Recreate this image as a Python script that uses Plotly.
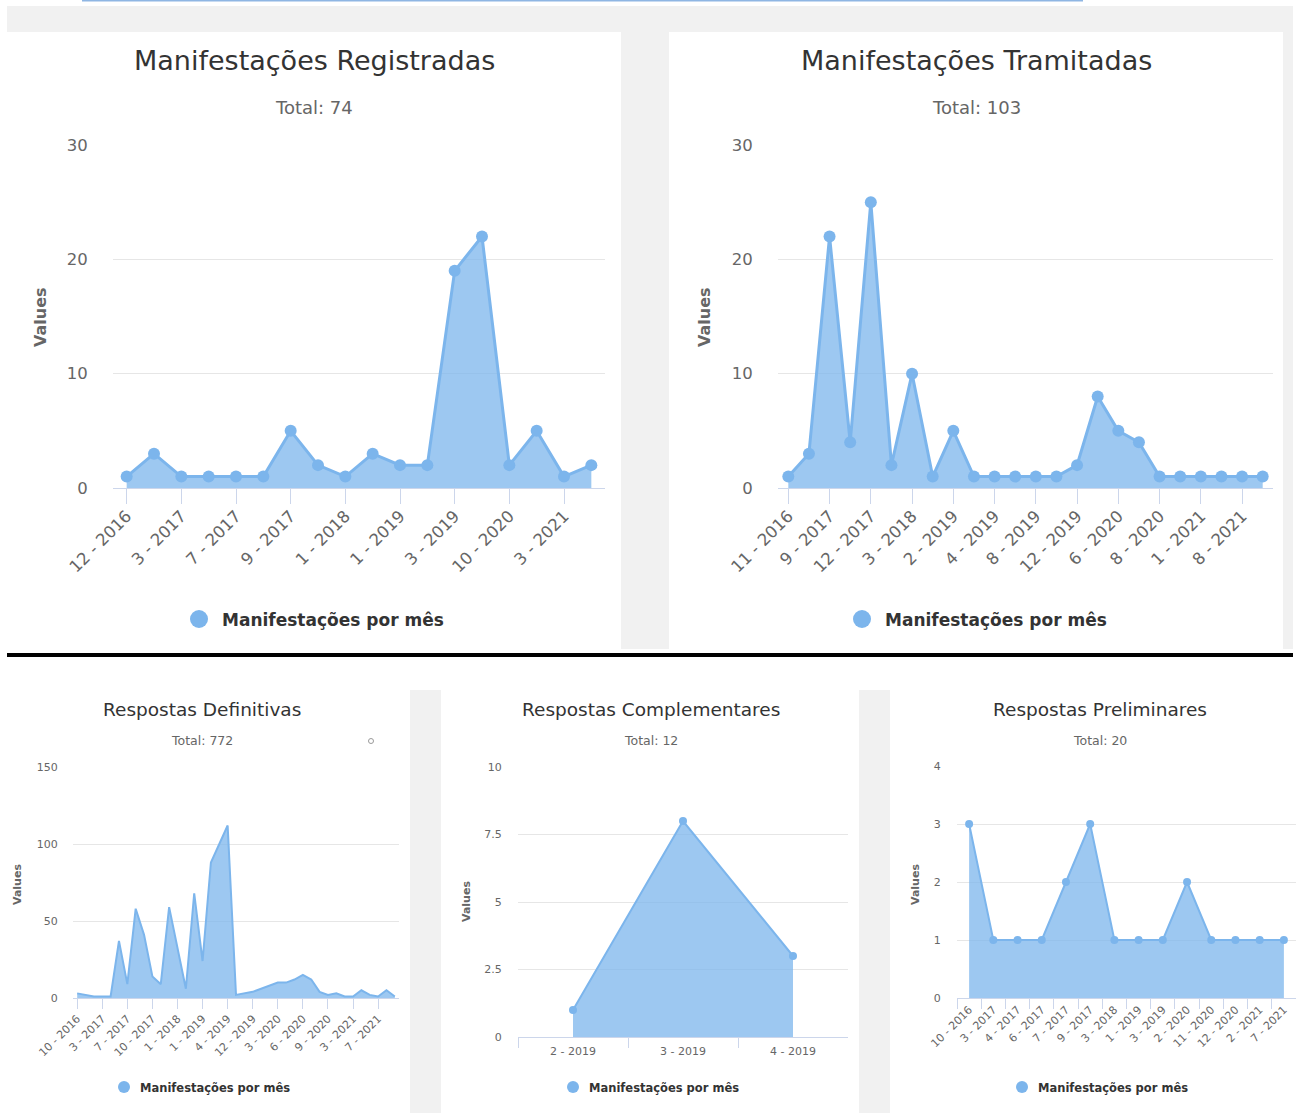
import plotly.graph_objects as go

W, H = 1298, 1113
FONT = "DejaVu Sans"
BLUE = "#7cb5ec"
FILL = "rgba(124,181,236,0.75)"

# ---------------- data ----------------
reg_cats = ["12 - 2016", "2 - 2017", "3 - 2017", "5 - 2017", "7 - 2017", "8 - 2017",
            "9 - 2017", "11 - 2017", "1 - 2018", "6 - 2018", "1 - 2019", "2 - 2019",
            "3 - 2019", "4 - 2019", "10 - 2020", "1 - 2021", "3 - 2021", "5 - 2021"]
reg_vals = [1, 3, 1, 1, 1, 1, 5, 2, 1, 3, 2, 2, 19, 22, 2, 5, 1, 2]
reg_ticks = ["12 - 2016", "3 - 2017", "7 - 2017", "9 - 2017", "1 - 2018", "1 - 2019",
             "3 - 2019", "10 - 2020", "3 - 2021"]

tram_cats = ["11 - 2016", "3 - 2017", "9 - 2017", "10 - 2017", "12 - 2017", "1 - 2018",
             "3 - 2018", "11 - 2018", "2 - 2019", "3 - 2019", "4 - 2019", "6 - 2019",
             "8 - 2019", "10 - 2019", "12 - 2019", "2 - 2020", "6 - 2020", "7 - 2020",
             "8 - 2020", "12 - 2020", "1 - 2021", "4 - 2021", "8 - 2021", "9 - 2021"]
tram_vals = [1, 3, 22, 4, 25, 2, 10, 1, 5, 1, 1, 1, 1, 1, 2, 8, 5, 4, 1, 1, 1, 1, 1, 1]
tram_ticks = ["11 - 2016", "9 - 2017", "12 - 2017", "3 - 2018", "2 - 2019", "4 - 2019",
              "8 - 2019", "12 - 2019", "6 - 2020", "8 - 2020", "1 - 2021", "8 - 2021"]

def_cats = ["10 - 2016", "11 - 2016", "12 - 2016", "3 - 2017", "5 - 2017", "6 - 2017",
            "7 - 2017", "8 - 2017", "9 - 2017", "10 - 2017", "11 - 2017", "12 - 2017",
            "1 - 2018", "3 - 2018", "11 - 2018", "1 - 2019", "2 - 2019", "3 - 2019",
            "4 - 2019", "5 - 2019", "10 - 2019", "12 - 2019", "1 - 2020", "2 - 2020",
            "3 - 2020", "4 - 2020", "5 - 2020", "6 - 2020", "7 - 2020", "8 - 2020",
            "9 - 2020", "10 - 2020", "12 - 2020", "3 - 2021", "4 - 2021", "5 - 2021",
            "7 - 2021", "8 - 2021", "9 - 2021"]
def_vals = [3, 2, 1, 1, 1, 37, 9, 58, 41, 14, 9, 59, 32, 6, 68, 24, 88, 100, 112, 2,
            3, 4, 6, 8, 10, 10, 12, 15, 12, 4, 2, 3, 1, 1, 5, 2, 1, 5, 1]
def_ticks = ["10 - 2016", "3 - 2017", "7 - 2017", "10 - 2017", "1 - 2018", "1 - 2019",
             "4 - 2019", "12 - 2019", "3 - 2020", "6 - 2020", "9 - 2020", "3 - 2021",
             "7 - 2021"]

comp_cats = ["2 - 2019", "3 - 2019", "4 - 2019"]
comp_vals = [1, 8, 3]

pre_cats = ["10 - 2016", "3 - 2017", "4 - 2017", "6 - 2017", "7 - 2017", "9 - 2017",
            "3 - 2018", "1 - 2019", "3 - 2019", "2 - 2020", "11 - 2020", "12 - 2020",
            "2 - 2021", "7 - 2021"]
pre_vals = [3, 1, 1, 1, 2, 3, 1, 1, 1, 2, 1, 1, 1, 1]

titles = ["Manifestações Registradas", "Manifestações Tramitadas", "Respostas Definitivas",
          "Respostas Complementares", "Respostas Preliminares"]
subtitles = ["Total: 74", "Total: 103", "Total: 772", "Total: 12", "Total: 20"]
series_name = "Manifestações por mês"
y_titles = "Values"

ytick_reg = [0, 10, 20, 30]
ytick_def = [0, 50, 100, 150]
ytick_comp = [0, 2.5, 5, 7.5, 10]
ytick_comp_text = ["0", "2.5", "5", "7.5", "10"]
ytick_pre = [0, 1, 2, 3, 4]


def px(x):
    return x / W


def py(y):
    return 1 - y / H


# ---------------- panel layout (pixels) ----------------
panels = [
    dict(cats=reg_cats, vals=reg_vals, ticks=reg_ticks, yt=ytick_reg, ytt=None, ymax=30,
         x0=113, x1=605, ybot=488, ytop=145, big=True, markers=True, angle=-45, bound=False,
         tcx=314, ty=60, scx=314, sy=107, vx=41, vy=317, lgx=199, lgy=619, ygap=21,
         xstand=-4),
    dict(cats=tram_cats, vals=tram_vals, ticks=tram_ticks, yt=ytick_reg, ytt=None, ymax=30,
         x0=778, x1=1273, ybot=488, ytop=145, big=True, markers=True, angle=-45, bound=False,
         tcx=977, ty=60, scx=977, sy=107, vx=705, vy=317, lgx=862, lgy=619, ygap=21,
         xstand=-4),
    dict(cats=def_cats, vals=def_vals, ticks=def_ticks, yt=ytick_def, ytt=None, ymax=150,
         x0=73, x1=399, ybot=998, ytop=767, big=False, markers=False, angle=-45, bound=False,
         tcx=202, ty=709, scx=202, sy=741, vx=17, vy=885, lgx=124, lgy=1087, ygap=12,
         xstand=-1),
    dict(cats=comp_cats, vals=comp_vals, ticks=comp_cats, yt=ytick_comp, ytt=ytick_comp_text,
         ymax=10, x0=518, x1=848, ybot=1037, ytop=767, big=False, markers=True, angle=0,
         bound=True, tcx=651, ty=709, scx=651, sy=741, vx=466, vy=902, lgx=573, lgy=1087,
         ygap=13, xstand=4),
    dict(cats=pre_cats, vals=pre_vals, ticks=pre_cats, yt=ytick_pre, ytt=None, ymax=4,
         x0=957, x1=1296, ybot=998, ytop=766, big=False, markers=True, angle=-45, bound=True,
         tcx=1100, ty=709, scx=1100, sy=741, vx=915, vy=885, lgx=1022, lgy=1087, ygap=13,
         xstand=0),
]

fig = go.Figure()
layout = dict(width=W, height=H, margin=dict(l=0, r=0, t=0, b=0, autoexpand=False),
              paper_bgcolor="white", plot_bgcolor="rgba(0,0,0,0)",
              showlegend=False, font=dict(family=FONT, color="#666666"))
shapes = []
annotations = []

# background blocks
shapes.append(dict(type="rect", xref="paper", yref="paper", layer="below",
                   x0=px(82), x1=px(1083), y0=py(1.5), y1=py(0),
                   fillcolor="#8fb6e3", line=dict(width=0)))
shapes.append(dict(type="rect", xref="paper", yref="paper", layer="below",
                   x0=px(7), x1=px(1293), y0=py(649), y1=py(6),
                   fillcolor="#f1f1f1", line=dict(width=0)))
for (a, b) in [(7, 621), (669, 1283)]:
    shapes.append(dict(type="rect", xref="paper", yref="paper", layer="below",
                       x0=px(a), x1=px(b), y0=py(649), y1=py(32),
                       fillcolor="white", line=dict(width=0)))
shapes.append(dict(type="rect", xref="paper", yref="paper", layer="below",
                   x0=px(7), x1=px(1293), y0=py(657), y1=py(653),
                   fillcolor="black", line=dict(width=0)))
for (a, b) in [(410, 441), (859, 890)]:
    shapes.append(dict(type="rect", xref="paper", yref="paper", layer="below",
                       x0=px(a), x1=px(b), y0=0, y1=py(690),
                       fillcolor="#f1f1f1", line=dict(width=0)))
# small ring glyph near the "Total: 772" subtitle
shapes.append(dict(type="circle", xref="paper", yref="paper", xsizemode="pixel",
                   ysizemode="pixel", xanchor=px(371), yanchor=py(741),
                   x0=-2.5, x1=2.5, y0=-2.5, y1=2.5,
                   line=dict(color="#9a9a9a", width=1), fillcolor="white"))

for i, p in enumerate(panels):
    n = i + 1
    xa = "x" if n == 1 else f"x{n}"
    ya = "y" if n == 1 else f"y{n}"
    big = p["big"]
    lw = 3 if big else 2
    ms = 12 if big else 8
    tick_fs = 16.5 if big else 11
    fig.add_trace(go.Scatter(
        x=p["cats"], y=p["vals"], xaxis=xa, yaxis=ya,
        mode="lines+markers" if p["markers"] else "lines",
        line=dict(color=BLUE, width=lw), marker=dict(size=ms, color=BLUE),
        fill="tozeroy", fillcolor=FILL, cliponaxis=False, name=series_name,
        hovertemplate="%{x}: %{y}<extra></extra>"))

    xkey = "xaxis" if n == 1 else f"xaxis{n}"
    ykey = "yaxis" if n == 1 else f"yaxis{n}"
    xd = dict(domain=[px(p["x0"]), px(p["x1"])], anchor=ya, type="category",
              range=[-0.5, len(p["cats"]) - 0.5], tickmode="array",
              tickvals=p["ticks"], ticktext=p["ticks"], tickangle=p["angle"],
              ticks="outside", ticklen=15 if big else 10, tickcolor="#ccd6eb",
              tickwidth=1, showline=True, linecolor="#ccd6eb", linewidth=1,
              showgrid=False, zeroline=False, fixedrange=True, automargin=False,
              ticklabelstandoff=p["xstand"],
              tickfont=dict(family=FONT, size=tick_fs, color="#666666"))
    if p["bound"]:
        xd["tickson"] = "boundaries"
    layout[xkey] = xd
    layout[ykey] = dict(domain=[py(p["ybot"]), py(p["ytop"])], anchor=xa,
                        range=[0, p["ymax"]], tickmode="array", tickvals=p["yt"],
                        ticktext=p["ytt"] if p["ytt"] else [str(v) for v in p["yt"]],
                        showgrid=True, gridcolor="#e6e6e6", gridwidth=1,
                        zeroline=False, showline=False, ticks="outside",
                        ticklen=p["ygap"], tickcolor="rgba(0,0,0,0)", fixedrange=True,
                        automargin=False,
                        tickfont=dict(family=FONT, size=tick_fs, color="#666666"))

    # title, subtitle, axis title, legend
    annotations.append(dict(text=titles[i], x=px(p["tcx"]), y=py(p["ty"]), xref="paper",
                            yref="paper", xanchor="center", yanchor="middle",
                            showarrow=False,
                            font=dict(family=FONT, size=27 if big else 18.5, color="#333333")))
    annotations.append(dict(text=subtitles[i], x=px(p["scx"]), y=py(p["sy"]), xref="paper",
                            yref="paper", xanchor="center", yanchor="middle",
                            showarrow=False,
                            font=dict(family=FONT, size=18 if big else 12.5, color="#666666")))
    annotations.append(dict(text="<b>" + y_titles + "</b>", x=px(p["vx"]), y=py(p["vy"]),
                            xref="paper", yref="paper", xanchor="center", yanchor="middle",
                            textangle=-90, showarrow=False,
                            font=dict(family=FONT, size=16 if big else 11, color="#666666")))
    r = 9 if big else 6
    shapes.append(dict(type="circle", xref="paper", yref="paper", xsizemode="pixel",
                       ysizemode="pixel", xanchor=px(p["lgx"]), yanchor=py(p["lgy"]),
                       x0=-r, x1=r, y0=-r, y1=r, fillcolor=BLUE, line=dict(width=0)))
    annotations.append(dict(text="<b>" + series_name + "</b>",
                            x=px(p["lgx"] + (21 if big else 14)), y=py(p["lgy"] + 1),
                            xref="paper", yref="paper", xanchor="left", yanchor="middle",
                            showarrow=False,
                            font=dict(family=FONT, size=17 if big else 11.5, color="#333333")))

layout["shapes"] = shapes
layout["annotations"] = annotations
fig.update_layout(**layout)
fig.write_html("out.html", config={"displayModeBar": False},
               post_script="document.body.style.margin='0';document.body.style.overflow='hidden';")
